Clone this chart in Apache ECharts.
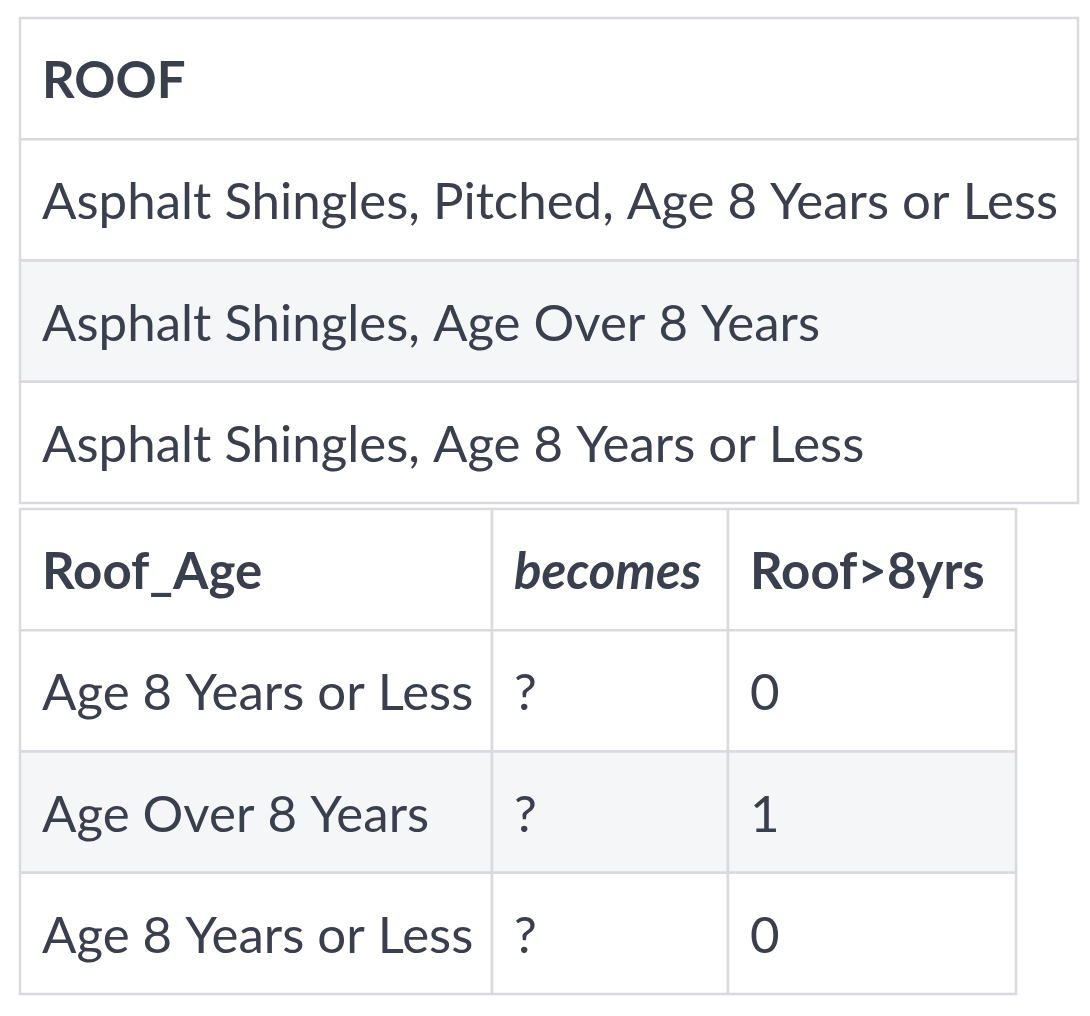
<!DOCTYPE html>
<html>
<head>
<meta charset="utf-8">
<script src="https://cdn.jsdelivr.net/npm/echarts@6/dist/echarts.min.js"></script>
<style>html,body{margin:0;background:#fff}#main{width:1090px;height:1016px}</style>
</head>
<body>
<div id="main"></div>
<script>
// table 1
const roofHeader = 'ROOF';
const roofRows = [
  'Asphalt Shingles, Pitched, Age 8 Years or Less',
  'Asphalt Shingles, Age Over 8 Years',
  'Asphalt Shingles, Age 8 Years or Less'
];
// table 2
const ageHeaders = ['Roof_Age', 'becomes', 'Roof>8yrs'];
const ageValues = ['Age 8 Years or Less', 'Age Over 8 Years', 'Age 8 Years or Less'];
const becomesValues = ['?', '?', '?'];
const flagValues = ['0', '1', '0'];

const lineColor = '#d9d9df';
const textColor = '#3a3f4e';
const stripe = '#f5f6f8';
const font = 'Lato, "Open Sans", sans-serif';

let g = [];
function cell(x, y, w, h, txt, opts) {
  opts = opts || {};
  g.push({type: 'rect', shape: {x: x, y: y, width: w, height: h},
    style: {fill: opts.fill || '#fff', stroke: lineColor, lineWidth: 2.5}});
  g.push({type: 'text', x: x + 22, y: y + h / 2 + 3,
    style: {text: txt, fill: textColor, font: (opts.italic ? 'italic ' : '') + (opts.bold ? 'bold ' : '') + '51px ' + font,
      textVerticalAlign: 'middle', textBaseline: 'middle'}});
}

// table 1 layout
const t1 = {x: 20, y: 18, w: 1058, h: 121.25};
cell(t1.x, t1.y, t1.w, t1.h, roofHeader, {bold: true});
roofRows.forEach((r, i) => cell(t1.x, t1.y + t1.h * (i + 1), t1.w, t1.h, r, {fill: i === 1 ? stripe : '#fff'}));

// table 2 layout
const colX = [20, 492, 728, 1016];
const t2y = 509, rh = 121.25;
ageHeaders.forEach((hd, c) => cell(colX[c], t2y, colX[c + 1] - colX[c], rh, hd, {bold: true, italic: c === 1}));
ageValues.forEach((v, i) => {
  const row = [v, becomesValues[i], flagValues[i]];
  row.forEach((t, c) => cell(colX[c], t2y + rh * (i + 1), colX[c + 1] - colX[c], rh, t, {fill: i === 1 ? stripe : '#fff'}));
});

const chart = echarts.init(document.getElementById('main'));
chart.setOption({animation: false, graphic: {elements: g}});
</script>
</body>
</html>
